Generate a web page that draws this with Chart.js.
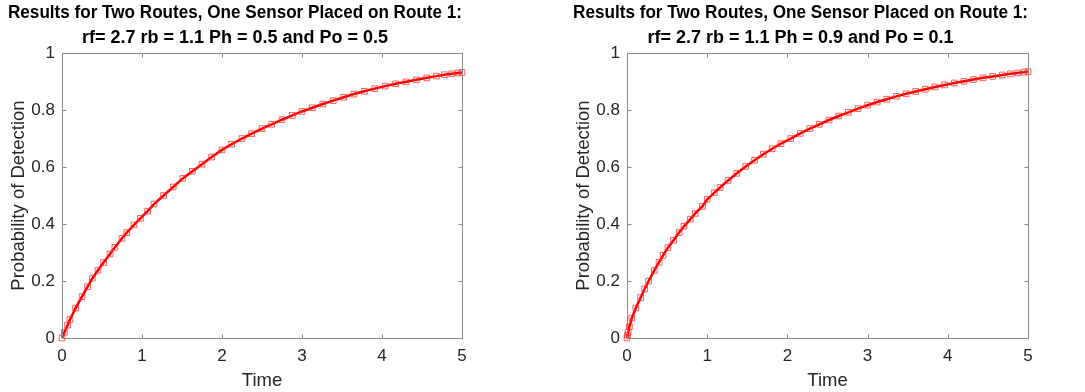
<!DOCTYPE html>
<html>
<head>
<meta charset="utf-8">
<script src="https://cdn.jsdelivr.net/npm/chart.js@4/dist/chart.umd.min.js"></script>
<style>
  body { margin: 0; background: #fff; width: 1085px; height: 392px; overflow: hidden; }
  .box { position: absolute; top: 0; height: 392px; }
</style>
</head>
<body>
<div class="box" style="left:0px;width:540px"><canvas id="chart1"></canvas></div>
<div class="box" style="left:565px;width:520px"><canvas id="chart2"></canvas></div>
<script>
// Dados (tempo, probabilidade de detecção)
var tempo1 = [0, 0.03, 0.07, 0.1, 0.17, 0.25, 0.32, 0.38, 0.45, 0.52, 0.6, 0.66, 0.75, 0.81, 0.9, 0.98,
  1.07, 1.15, 1.27, 1.39, 1.51, 1.63, 1.75, 1.87, 2.0, 2.12, 2.25, 2.37, 2.5, 2.62, 2.75, 2.88, 3.0,
  3.13, 3.26, 3.39, 3.52, 3.65, 3.78, 3.91, 4.04, 4.17, 4.3, 4.43, 4.56, 4.68, 4.78, 4.87, 4.95, 5.0];
var prob1 = [0, 0.02, 0.045, 0.065, 0.105, 0.145, 0.18, 0.21, 0.238, 0.265, 0.295, 0.318, 0.35, 0.37, 0.397, 0.42,
  0.445, 0.47, 0.5, 0.53, 0.56, 0.585, 0.61, 0.635, 0.66, 0.68, 0.7, 0.717, 0.735, 0.75, 0.766, 0.781, 0.795,
  0.808, 0.821, 0.833, 0.845, 0.856, 0.866, 0.875, 0.884, 0.892, 0.899, 0.906, 0.913, 0.919, 0.924, 0.927, 0.93, 0.932];

var tempo2 = [0, 0.005, 0.015, 0.03, 0.06, 0.11, 0.17, 0.22, 0.27, 0.34, 0.4, 0.45, 0.51, 0.58, 0.65, 0.71,
  0.79, 0.85, 0.94, 1.0, 1.09, 1.16, 1.26, 1.37, 1.48, 1.59, 1.7, 1.81, 1.92, 2.04, 2.16, 2.28, 2.4, 2.52,
  2.64, 2.76, 2.88, 3.0, 3.12, 3.24, 3.36, 3.48, 3.6, 3.72, 3.84, 3.96, 4.08, 4.2, 4.32, 4.44, 4.56, 4.68,
  4.78, 4.87, 4.95, 5.0];
var prob2 = [0, 0.01, 0.02, 0.04, 0.07, 0.105, 0.142, 0.172, 0.2, 0.237, 0.266, 0.29, 0.317, 0.343, 0.37, 0.392,
  0.417, 0.437, 0.462, 0.487, 0.51, 0.528, 0.553, 0.578, 0.602, 0.624, 0.645, 0.664, 0.682, 0.7, 0.718, 0.735,
  0.75, 0.765, 0.779, 0.792, 0.805, 0.817, 0.828, 0.838, 0.848, 0.857, 0.865, 0.873, 0.881, 0.888, 0.895,
  0.901, 0.907, 0.913, 0.918, 0.923, 0.927, 0.93, 0.933, 0.935];

var titulo1 = ['Results for Two Routes, One Sensor Placed on Route 1:', 'rf= 2.7 rb = 1.1 Ph = 0.5 and Po = 0.5'];
var titulo2 = ['Results for Two Routes, One Sensor Placed on Route 1:', 'rf= 2.7 rb = 1.1 Ph = 0.9 and Po = 0.1'];
var ticksX = [0, 1, 2, 3, 4, 5];
var ticksY = [0, 0.2, 0.4, 0.6, 0.8, 1];

var FONTE = "'Liberation Sans', Arial, sans-serif";
var COR_TEXTO = '#262626';
var COR_EIXO = '#8a8a8a';

// moldura estilo MATLAB com ticks para dentro nos 4 lados
var moldura = {
  id: 'moldura',
  afterDatasetsDraw: function(chart) {
    var ctx = chart.ctx, a = chart.chartArea;
    var sx = chart.scales.x, sy = chart.scales.y;
    var L = Math.round(a.left) + 0.5, R = Math.round(a.right) + 0.5;
    var T = Math.round(a.top) + 0.5, B = Math.round(a.bottom) + 0.5;
    ctx.save();
    ctx.strokeStyle = COR_EIXO;
    ctx.lineWidth = 1;
    ctx.strokeRect(L, T, R - L, B - T);
    ctx.beginPath();
    ticksX.forEach(function(v) {
      var px = Math.round(sx.getPixelForValue(v)) + 0.5;
      ctx.moveTo(px, B); ctx.lineTo(px, B - 4);
      ctx.moveTo(px, T); ctx.lineTo(px, T + 4);
    });
    ticksY.forEach(function(v) {
      var py = Math.round(sy.getPixelForValue(v)) + 0.5;
      ctx.moveTo(L, py); ctx.lineTo(L + 4, py);
      ctx.moveTo(R, py); ctx.lineTo(R - 4, py);
    });
    ctx.stroke();
    ctx.restore();
  }
};

function GerarGrafico(id, tempo, prob, titulo, padDireita) {
  var dados = tempo.map(function(t, i) { return { x: t, y: prob[i] }; });
  return new Chart(document.getElementById(id), {
    type: 'line',
    data: {
      datasets: [{
        data: dados,
        borderColor: '#ff0000',
        borderWidth: 2.5,
        pointStyle: 'rect',
        pointRadius: 4,
        pointBorderWidth: 1,
        pointBorderColor: 'rgba(255,40,40,0.75)',
        pointBackgroundColor: 'rgba(0,0,0,0)',
        tension: 0,
        clip: 8
      }]
    },
    options: {
      responsive: false,
      animation: false,
      layout: { padding: { left: 8, right: padDireita, top: 0, bottom: 0 } },
      plugins: {
        legend: { display: false },
        tooltip: { enabled: false },
        title: {
          display: true,
          text: titulo,
          color: '#000',
          font: { family: FONTE, size: 18, weight: 'bold', lineHeight: 1.39 },
          padding: { top: 0.5, bottom: 2.5 }
        }
      },
      scales: {
        x: {
          type: 'linear', min: 0, max: 5,
          afterBuildTicks: function(s) { s.ticks = ticksX.map(function(v) { return { value: v }; }); },
          afterFit: function(s) { s.height = 54; },
          grid: { display: false, drawTicks: false },
          border: { display: false },
          ticks: { color: COR_TEXTO, font: { family: FONTE, size: 17 }, padding: 8, maxRotation: 0 },
          title: { display: true, text: 'Time', color: COR_TEXTO, font: { family: FONTE, size: 18.5 }, padding: { top: 0, bottom: 0 } }
        },
        y: {
          type: 'linear', min: 0, max: 1,
          afterBuildTicks: function(s) { s.ticks = ticksY.map(function(v) { return { value: v }; }); },
          afterFit: function(s) { s.width = 54; },
          grid: { display: false, drawTicks: false },
          border: { display: false },
          ticks: {
            color: COR_TEXTO, font: { family: FONTE, size: 17 }, padding: 7,
            callback: function(v) { return String(Math.round(v * 10) / 10); }
          },
          title: { display: true, text: 'Probability of Detection', color: COR_TEXTO, font: { family: FONTE, size: 18.5 }, padding: { top: 0, bottom: 0 } }
        }
      }
    },
    plugins: [moldura, {
      id: 'fundo',
      beforeDraw: function(c) { c.ctx.save(); c.ctx.fillStyle = '#fff'; c.ctx.fillRect(0, 0, c.width, c.height); c.ctx.restore(); }
    }]
  });
}

var c1 = document.getElementById('chart1'); c1.width = 540; c1.height = 392;
var c2 = document.getElementById('chart2'); c2.width = 520; c2.height = 392;
GerarGrafico('chart1', tempo1, prob1, titulo1, 78);
GerarGrafico('chart2', tempo2, prob2, titulo2, 57);
</script>
</body>
</html>
